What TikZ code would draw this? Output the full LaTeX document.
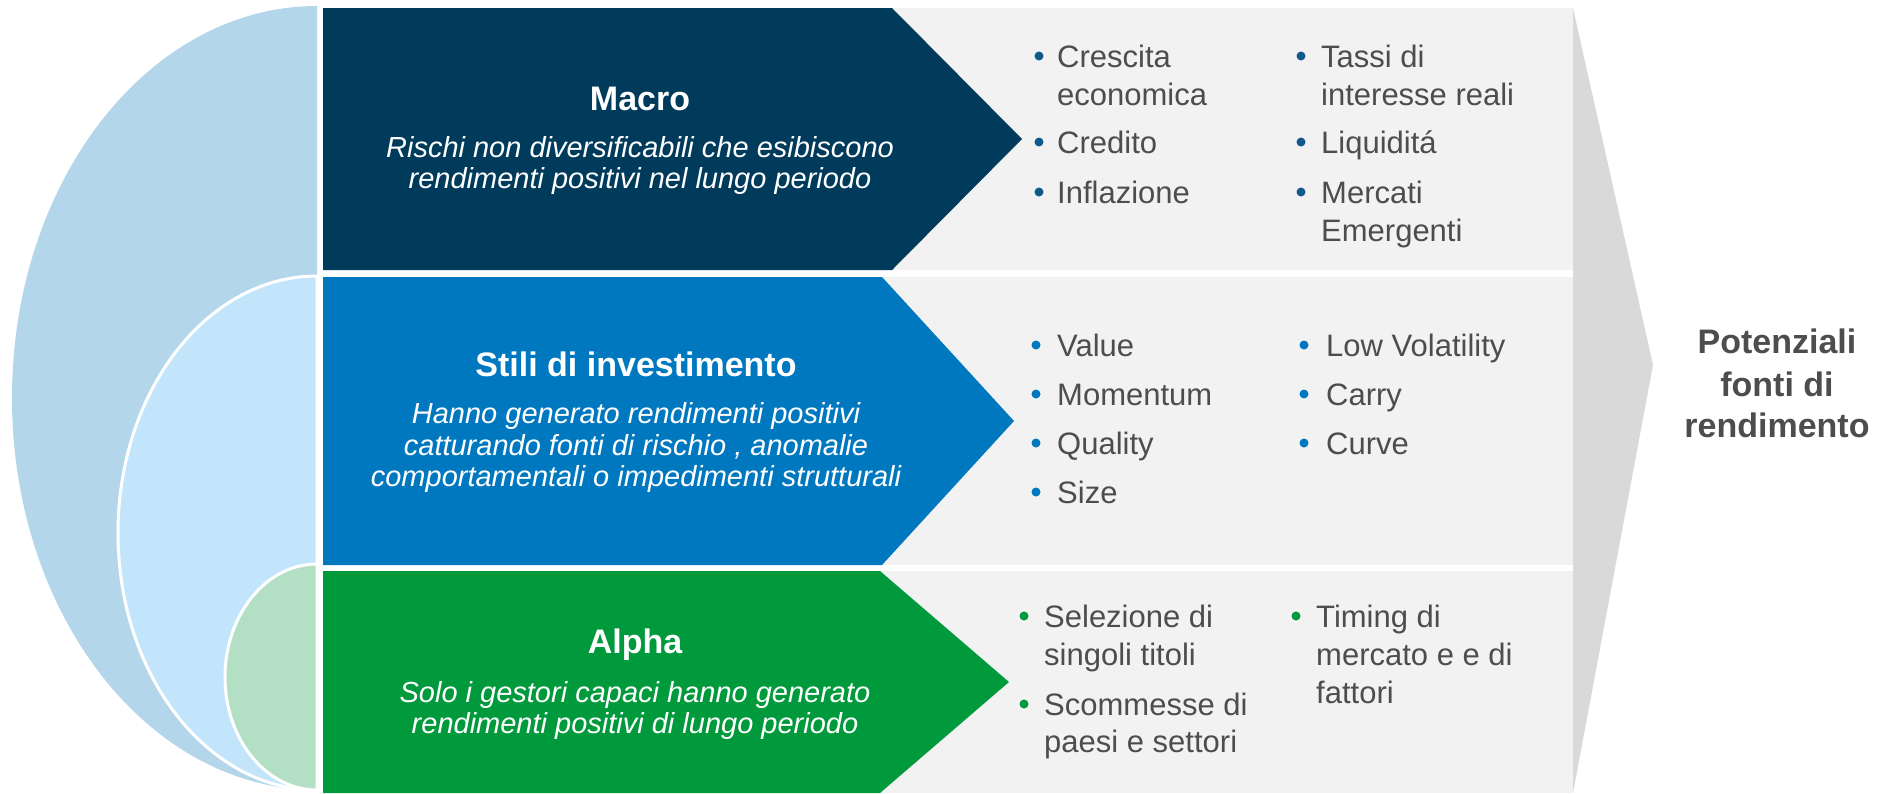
\documentclass[tikz,border=0pt]{standalone}
\usepackage{fontspec}
\setmainfont{Liberation Sans}
\definecolor{ellA}{HTML}{B4D6EB}
\definecolor{ellB}{HTML}{C3E5FC}
\definecolor{ellC}{HTML}{B3DFC5}
\definecolor{macroc}{HTML}{003B5C}
\definecolor{stilic}{HTML}{0078C0}
\definecolor{alphac}{HTML}{009A3D}
\definecolor{lgrey}{HTML}{F2F2F2}
\definecolor{dgrey}{HTML}{D9D9D9}
\definecolor{txtgray}{HTML}{4D4D4D}
\definecolor{mdot}{HTML}{0F5A8A}
\newcommand\bl[4]{\node[btxt] (#1) at (#2,#3) {#4};}
\newcommand\bd[4]{\node[bdot,fill=#4] (#1) at (#2,#3-11) {};}
\begin{document}
\begin{tikzpicture}[x=1pt,y=-1pt,
  btxt/.style={font=\fontsize{31}{38}\selectfont, text=txtgray, inner sep=0pt, anchor=base west},
  bdot/.style={circle, inner sep=0pt, minimum size=9pt, draw=none},
  ttl/.style={font=\bfseries\fontsize{34}{40}\selectfont, text=white, inner sep=0pt, anchor=base},
  subt/.style={font=\itshape\fontsize{29}{31.5}\selectfont, text=white, inner sep=0pt, anchor=base},
  rtxt/.style={font=\bfseries\fontsize{34}{40}\selectfont, text=txtgray, inner sep=0pt, anchor=base}]
\useasboundingbox (0,0) rectangle (1890,793);
% big grey chevron
\fill[dgrey] (1573,8) -- (1653,365) -- (1573,793) -- cycle;
% grey rows
\fill[lgrey] (323,8) rectangle (1573,270);
\fill[lgrey] (323,277) rectangle (1573,565);
\fill[lgrey] (323,571) rectangle (1573,793);
% chevron boxes
\fill[macroc] (323,8) -- (892,8) -- (1022,139) -- (892,270) -- (323,270) -- cycle;
\fill[stilic] (323,277) -- (882,277) -- (1014,421) -- (882,565) -- (323,565) -- cycle;
\fill[alphac] (323,571) -- (880,571) -- (1009,682) -- (880,793) -- (323,793) -- cycle;
% nested half ellipses
\fill[ellA] (317,6) arc[start angle=270,end angle=90,x radius=305,y radius=392] -- cycle;
\filldraw[fill=ellB,draw=white,line width=3pt] (317,276) arc[start angle=270,end angle=90,x radius=199,y radius=257] -- cycle;
\filldraw[fill=ellC,draw=white,line width=3pt] (317,564) arc[start angle=270,end angle=90,x radius=92,y radius=113] -- cycle;
% titles
\node[ttl] (tmacro) at (640,110) {Macro};
\node[subt] (smacro1) at (640,157) {Rischi non diversificabili che esibiscono};
\node[subt] (smacro2) at (640,188) {rendimenti positivi nel lungo periodo};
\node[ttl] (tstili) at (636,376) {Stili di investimento};
\node[subt] (sstili1) at (636,423) {Hanno generato rendimenti positivi};
\node[subt] (sstili2) at (636,455) {catturando fonti di rischio , anomalie};
\node[subt] (sstili3) at (636,486) {comportamentali o impedimenti strutturali};
\node[ttl] (talpha) at (635,653) {Alpha};
\node[subt] (salpha1) at (635,702) {Solo i gestori capaci hanno generato};
\node[subt] (salpha2) at (635,733) {rendimenti positivi di lungo periodo};
% macro bullets
\bd{mb1}{1039}{67}{mdot}\bl{m1a}{1057}{67}{Crescita}\bl{m1b}{1057}{105}{economica}
\bd{mb2}{1039}{153}{mdot}\bl{m2}{1057}{153}{Credito}
\bd{mb3}{1039}{203}{mdot}\bl{m3}{1057}{203}{Inflazione}
\bd{mb4}{1301}{67}{mdot}\bl{m4a}{1321}{67}{Tassi di}\bl{m4b}{1321}{105}{interesse reali}
\bd{mb5}{1301}{153}{mdot}\bl{m5}{1321}{153}{Liquiditá}
\bd{mb6}{1301}{203}{mdot}\bl{m6a}{1321}{203}{Mercati}\bl{m6b}{1321}{241}{Emergenti}
% stili bullets
\bd{sb1}{1036}{356}{stilic}\bl{s1}{1057}{356}{Value}
\bd{sb2}{1036}{405}{stilic}\bl{s2}{1057}{405}{Momentum}
\bd{sb3}{1036}{454}{stilic}\bl{s3}{1057}{454}{Quality}
\bd{sb4}{1036}{503}{stilic}\bl{s4}{1057}{503}{Size}
\bd{sb5}{1304}{356}{stilic}\bl{s5}{1326}{356}{Low Volatility}
\bd{sb6}{1304}{405}{stilic}\bl{s6}{1326}{405}{Carry}
\bd{sb7}{1304}{454}{stilic}\bl{s7}{1326}{454}{Curve}
% alpha bullets
\bd{ab1}{1024}{627}{alphac}\bl{a1a}{1044}{627}{Selezione di}\bl{a1b}{1044}{665}{singoli titoli}
\bd{ab2}{1024}{715}{alphac}\bl{a2a}{1044}{715}{Scommesse di}\bl{a2b}{1044}{752}{paesi e settori}
\bd{ab3}{1296}{627}{alphac}\bl{a3a}{1316}{627}{Timing di}\bl{a3b}{1316}{665}{mercato e e di}\bl{a3c}{1316}{703}{fattori}
% right label
\node[rtxt] (r1) at (1777,353) {Potenziali};
\node[rtxt] (r2) at (1777,396) {fonti di};
\node[rtxt] (r3) at (1777,437) {rendimento};
\end{tikzpicture}
\end{document}
